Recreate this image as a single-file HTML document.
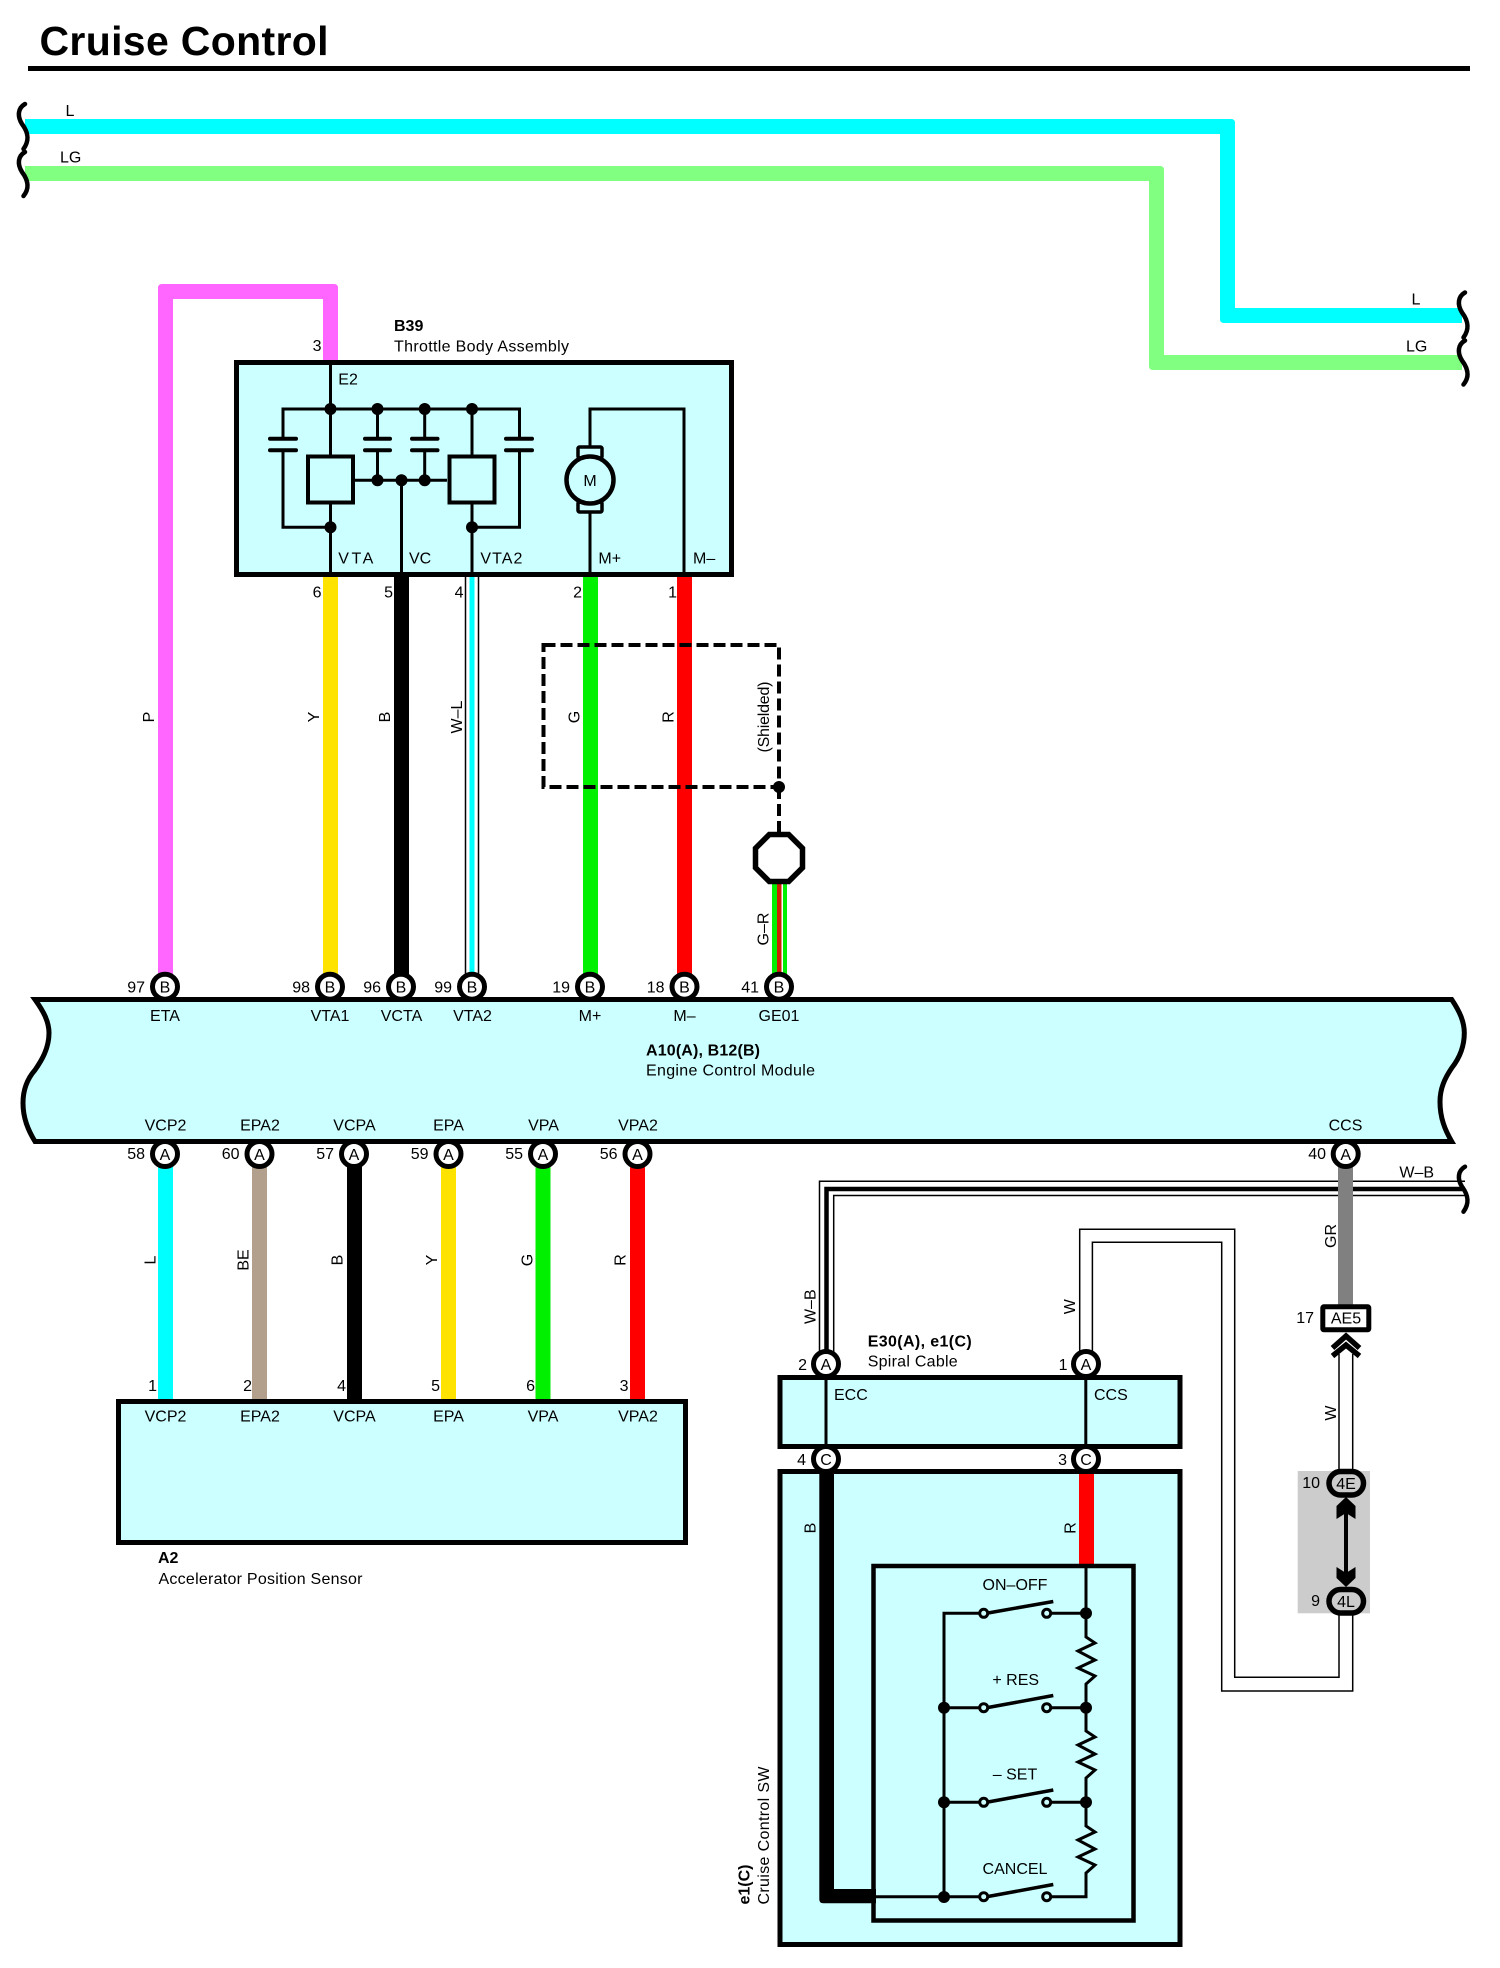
<!DOCTYPE html>
<html>
<head>
<meta charset="utf-8">
<title>Cruise Control</title>
<style>
html,body{margin:0;padding:0;background:#fff}
svg{display:block}
text{font-family:"Liberation Sans",sans-serif;font-size:16px;fill:#000}
.m{text-anchor:middle}
.e{text-anchor:end}
.b{font-weight:bold}
.c{fill:#fff;stroke:#000;stroke-width:5}
.t{fill:none;stroke:#000;stroke-width:3}
.d{fill:#000}
.box{fill:#CCFFFF;stroke:#000;stroke-width:5}
.thin{fill:none;stroke:#000;stroke-width:1.5}
.sq{fill:none;stroke:#000;stroke-width:4.5;stroke-linecap:round}
.pl{fill:none;stroke:#000;stroke-width:4;stroke-linecap:round}
</style>
</head>
<body>
<svg width="1500" height="1968" viewBox="0 0 1500 1968" xmlns="http://www.w3.org/2000/svg">
<rect width="1500" height="1968" fill="#fff"/>

<!-- Title -->
<text x="39.5" y="55" class="b" style="font-size:41px" textLength="289" lengthAdjust="spacing">Cruise Control</text>
<rect x="28" y="66" width="1442" height="5" fill="#000"/>

<!-- Top wires -->
<path fill="#00FFFF" d="M25 119H1231Q1235 119 1235 123V308H1462V323H1224Q1220 323 1220 319V134H25Z"/>
<path fill="#80FF80" d="M25 166H1160Q1164 166 1164 170V355H1462V370H1153Q1149 370 1149 366V181H25Z"/>
<path class="sq" d="M25 104C18 108 17 116 22 124C28 132 30 140 23.5 149"/>
<path class="sq" d="M25 152C18 156 17 164 22 172C28 180 30 188 23.5 196"/>
<path class="sq" transform="translate(1440 188.5)" d="M25 104C18 108 17 116 22 124C28 132 30 140 23.5 149"/>
<path class="sq" transform="translate(1440 188.5)" d="M25 152C18 156 17 164 22 172C28 180 30 188 23.5 196"/>
<text x="70" y="116" class="m">L</text>
<text x="70.7" y="162.7" class="m">LG</text>
<text x="1416" y="304.3" class="m">L</text>
<text x="1416.7" y="351.7" class="m">LG</text>

<!-- Wires between B39 and ECM -->
<path fill="#FF66FF" d="M158 987V288Q158 284 162 284H334Q338 284 338 288V365H323V299H173V987Z"/>
<rect x="323" y="575" width="15" height="412" fill="#FFE300"/>
<rect x="394" y="575" width="15" height="412" fill="#000"/>
<rect x="465.5" y="575" width="13" height="412" fill="#fff"/>
<rect x="469.5" y="575" width="5" height="412" fill="#00FFFF"/>
<line x1="465.5" y1="575" x2="465.5" y2="987" stroke="#000" stroke-width="1.5"/>
<line x1="478.5" y1="575" x2="478.5" y2="987" stroke="#000" stroke-width="1.5"/>
<rect x="583" y="575" width="15" height="412" fill="#00F000"/>
<rect x="677" y="575" width="15" height="412" fill="#FF0000"/>

<!-- Shield -->
<rect x="543.5" y="645" width="235.5" height="142" fill="none" stroke="#000" stroke-width="4" stroke-dasharray="12 5"/>
<line x1="779" y1="787" x2="779" y2="834" stroke="#000" stroke-width="4" stroke-dasharray="12 5"/>
<circle cx="779" cy="787" r="6" class="d"/>
<rect x="772" y="880" width="15" height="107" fill="#00F000"/>
<rect x="777" y="880" width="4.5" height="107" fill="#CC2200"/>
<rect x="781.5" y="880" width="1.5" height="107" fill="#fff"/>
<polygon points="769.3,834.5 788.7,834.5 802.5,848.3 802.5,867.7 788.7,881.5 769.3,881.5 755.5,867.7 755.5,848.3" fill="#fff" stroke="#000" stroke-width="5.5"/>

<!-- Rotated labels, upper -->
<text transform="rotate(-90 154 717)" x="154" y="717" class="m">P</text>
<text transform="rotate(-90 319 717)" x="319" y="717" class="m">Y</text>
<text transform="rotate(-90 390 717)" x="390" y="717" class="m">B</text>
<text transform="rotate(-90 462 717)" x="462" y="717" class="m">W–L</text>
<text transform="rotate(-90 579.5 717)" x="579.5" y="717" class="m">G</text>
<text transform="rotate(-90 673.5 717)" x="673.5" y="717" class="m">R</text>
<text transform="rotate(-90 769 717)" x="769" y="717" class="m" textLength="71" lengthAdjust="spacing">(Shielded)</text>
<text transform="rotate(-90 768.5 929)" x="768.5" y="929" class="m">G–R</text>

<!-- B39 -->
<rect x="236.5" y="362.5" width="495" height="212" class="box"/>
<text x="394" y="331" class="b">B39</text>
<text x="394" y="351.7" textLength="175" lengthAdjust="spacing">Throttle Body Assembly</text>
<text x="321.5" y="351" class="e">3</text>
<text x="321.5" y="597.3" class="e">6</text>
<text x="393" y="597.3" class="e">5</text>
<text x="463.5" y="597.3" class="e">4</text>
<text x="582" y="597.3" class="e">2</text>
<text x="677" y="597.3" class="e">1</text>
<text x="338.3" y="384.7">E2</text>
<text x="338.3" y="563.7" textLength="35" lengthAdjust="spacing">VTA</text>
<text x="409" y="563.7">VC</text>
<text x="480.4" y="563.7" textLength="42" lengthAdjust="spacing">VTA2</text>
<text x="598.4" y="563.7">M+</text>
<text x="693" y="563.7">M–</text>

<path class="t" d="M330.5 365V455M330.5 504V575"/>
<path class="t" d="M283 438.7V409H519.5V438.7M283 450.3V527.3H330.5"/>
<path class="t" d="M519.5 450.3V527.3H472"/>
<path class="t" d="M377.5 409V438.7M377.5 450.3V480.3M424.7 409V438.7M424.7 450.3V480.3"/>
<path class="t" d="M472 409V455M472 504V575"/>
<path class="t" d="M355 480.3H447M401.5 480.3V575"/>
<path class="pl" d="M270 438.7H296M270 450.3H296M365 438.7H390M365 450.3H390M412 438.7H437.5M412 450.3H437.5M506 438.7H532M506 450.3H532"/>
<rect x="308" y="456.5" width="45" height="46" fill="none" stroke="#000" stroke-width="4"/>
<rect x="449.5" y="456.5" width="45" height="46" fill="none" stroke="#000" stroke-width="4"/>
<circle cx="330.5" cy="409" r="6" class="d"/><circle cx="377.5" cy="409" r="6" class="d"/>
<circle cx="424.7" cy="409" r="6" class="d"/><circle cx="472" cy="409" r="6" class="d"/>
<circle cx="377.5" cy="480.3" r="6" class="d"/><circle cx="401.5" cy="480.3" r="6" class="d"/>
<circle cx="424.7" cy="480.3" r="6" class="d"/>
<circle cx="330.5" cy="527.3" r="6" class="d"/><circle cx="472" cy="527.3" r="6" class="d"/>
<!-- motor -->
<path class="t" d="M590 447V409H684V575M590 512V575"/>
<rect x="578" y="447" width="24" height="11" rx="1.5" fill="none" stroke="#000" stroke-width="3.5"/>
<rect x="578" y="502" width="24" height="10" rx="1.5" fill="none" stroke="#000" stroke-width="3.5"/>
<circle cx="590" cy="480" r="23.5" fill="#CCFFFF" stroke="#000" stroke-width="4.5"/>
<text x="590" y="486" class="m">M</text>

<!-- Lower wires -->
<rect x="158" y="1154" width="15" height="247" fill="#00FFFF"/>
<rect x="252" y="1154" width="15" height="247" fill="#B2A08C"/>
<rect x="347" y="1154" width="15" height="247" fill="#000"/>
<rect x="441" y="1154" width="15" height="247" fill="#FFE300"/>
<rect x="535.5" y="1154" width="15" height="247" fill="#00F000"/>
<rect x="630" y="1154" width="15" height="247" fill="#FF0000"/>
<text transform="rotate(-90 155.5 1260)" x="155.5" y="1260" class="m">L</text>
<text transform="rotate(-90 248.5 1260)" x="248.5" y="1260" class="m">BE</text>
<text transform="rotate(-90 342.7 1260)" x="342.7" y="1260" class="m">B</text>
<text transform="rotate(-90 437 1260)" x="437" y="1260" class="m">Y</text>
<text transform="rotate(-90 532.5 1260)" x="532.5" y="1260" class="m">G</text>
<text transform="rotate(-90 625.5 1260)" x="625.5" y="1260" class="m">R</text>

<!-- ECM -->
<path class="box" d="M35 999.5H1451.7C1460 1012 1464.3 1022 1464.3 1033C1464.3 1048 1458 1060 1451.7 1068C1445 1078 1440 1088 1440 1101.7C1440 1118 1445 1130 1451.7 1141.5H35C28 1130 23 1118 23 1103C23 1088 28 1078 35 1070C42 1060 49 1048 49 1033C49 1022 44 1012 35 999.5Z"/>
<text x="165" y="1021" class="m">ETA</text>
<text x="330" y="1021" class="m">VTA1</text>
<text x="401.5" y="1021" class="m">VCTA</text>
<text x="472.5" y="1021" class="m">VTA2</text>
<text x="590" y="1021" class="m">M+</text>
<text x="684.5" y="1021" class="m">M–</text>
<text x="779" y="1021" class="m">GE01</text>
<text x="165.5" y="1130.7" class="m">VCP2</text>
<text x="260" y="1130.7" class="m">EPA2</text>
<text x="354.5" y="1130.7" class="m">VCPA</text>
<text x="448.5" y="1130.7" class="m">EPA</text>
<text x="543.5" y="1130.7" class="m">VPA</text>
<text x="638" y="1130.7" class="m">VPA2</text>
<text x="1345.5" y="1130.7" class="m">CCS</text>
<text x="646" y="1055.7" class="b" textLength="114" lengthAdjust="spacing">A10(A), B12(B)</text>
<text x="646" y="1075.7" textLength="169" lengthAdjust="spacing">Engine Control Module</text>

<!-- ECM upper connectors -->
<circle cx="165" cy="986.7" r="12.5" class="c"/><text x="165" y="992.7" class="m">B</text><text x="145" y="992.5" class="e">97</text>
<circle cx="330" cy="986.7" r="12.5" class="c"/><text x="330" y="992.7" class="m">B</text><text x="310" y="992.5" class="e">98</text>
<circle cx="401" cy="986.7" r="12.5" class="c"/><text x="401" y="992.7" class="m">B</text><text x="381" y="992.5" class="e">96</text>
<circle cx="472" cy="986.7" r="12.5" class="c"/><text x="472" y="992.7" class="m">B</text><text x="452" y="992.5" class="e">99</text>
<circle cx="590" cy="986.7" r="12.5" class="c"/><text x="590" y="992.7" class="m">B</text><text x="570" y="992.5" class="e">19</text>
<circle cx="684.5" cy="986.7" r="12.5" class="c"/><text x="684.5" y="992.7" class="m">B</text><text x="664.5" y="992.5" class="e">18</text>
<circle cx="779" cy="986.7" r="12.5" class="c"/><text x="779" y="992.7" class="m">B</text><text x="759" y="992.5" class="e">41</text>

<!-- ECM lower connectors -->
<circle cx="165" cy="1154" r="12.5" class="c"/><text x="165" y="1160" class="m">A</text><text x="145" y="1159" class="e">58</text>
<circle cx="259.5" cy="1154" r="12.5" class="c"/><text x="259.5" y="1160" class="m">A</text><text x="239.5" y="1159" class="e">60</text>
<circle cx="354" cy="1154" r="12.5" class="c"/><text x="354" y="1160" class="m">A</text><text x="334" y="1159" class="e">57</text>
<circle cx="448.5" cy="1154" r="12.5" class="c"/><text x="448.5" y="1160" class="m">A</text><text x="428.5" y="1159" class="e">59</text>
<circle cx="543" cy="1154" r="12.5" class="c"/><text x="543" y="1160" class="m">A</text><text x="523" y="1159" class="e">55</text>
<circle cx="637.5" cy="1154" r="12.5" class="c"/><text x="637.5" y="1160" class="m">A</text><text x="617.5" y="1159" class="e">56</text>

<!-- A2 -->
<rect x="118.5" y="1401.5" width="567" height="141" class="box"/>
<text x="157" y="1391" class="e">1</text>
<text x="252" y="1391" class="e">2</text>
<text x="346" y="1391" class="e">4</text>
<text x="440" y="1391" class="e">5</text>
<text x="535" y="1391" class="e">6</text>
<text x="628.5" y="1391" class="e">3</text>
<text x="165.5" y="1421.7" class="m">VCP2</text>
<text x="260" y="1421.7" class="m">EPA2</text>
<text x="354.5" y="1421.7" class="m">VCPA</text>
<text x="448.5" y="1421.7" class="m">EPA</text>
<text x="543" y="1421.7" class="m">VPA</text>
<text x="638" y="1421.7" class="m">VPA2</text>
<text x="158" y="1563" class="b">A2</text>
<text x="158.5" y="1584" textLength="204" lengthAdjust="spacing">Accelerator Position Sensor</text>

<!-- W-B wire -->
<path class="thin" d="M819.5 1352V1181.3H1465"/>
<path class="thin" d="M833.7 1352V1195.5H1465"/>
<path fill="none" stroke="#000" stroke-width="4.5" d="M826.5 1352V1189H1465"/>
<path class="sq" transform="translate(1440 1062.7)" d="M25 104C18 108 17 116 22 124C28 132 30 140 23.5 149"/>
<text x="1416.7" y="1177.3" class="m">W–B</text>
<text transform="rotate(-90 815.6 1306.7)" x="815.6" y="1306.7" class="m">W–B</text>

<!-- GR wire + AE5 -->
<rect x="1338" y="1166" width="15" height="140" fill="#808080"/>
<circle cx="1345.7" cy="1154" r="12.5" class="c"/><text x="1345.7" y="1160" class="m">A</text><text x="1326" y="1159" class="e">40</text>
<text transform="rotate(-90 1336 1236)" x="1336" y="1236" class="m">GR</text>
<rect x="1322.8" y="1306.8" width="46" height="23" rx="1" fill="#fff" stroke="#000" stroke-width="5"/>
<text x="1346" y="1323.5" class="m">AE5</text>
<text x="1314" y="1323" class="e">17</text>
<path fill="none" stroke="#000" stroke-width="5.5" d="M1332.5 1348L1346 1336L1359.5 1348M1332.5 1356L1346 1345L1359.5 1356"/>

<!-- W wire from AE5 through junction -->
<path class="thin" d="M1339 1354V1471M1352.7 1354V1471"/>
<text transform="rotate(-90 1336 1413)" x="1336" y="1413" class="m">W</text>
<rect x="1297.7" y="1471" width="72.3" height="142.3" fill="#CCCCCC"/>
<rect x="1329" y="1471.5" width="34.5" height="23.5" rx="11.7" fill="#CCCCCC" stroke="#000" stroke-width="5.5"/>
<text x="1346" y="1489" class="m">4E</text>
<text x="1320" y="1488" class="e">10</text>
<rect x="1329" y="1589.5" width="34.5" height="23.5" rx="11.7" fill="#CCCCCC" stroke="#000" stroke-width="5.5"/>
<text x="1346" y="1607" class="m">4L</text>
<text x="1320" y="1606" class="e">9</text>
<line x1="1346" y1="1505" x2="1346" y2="1580" stroke="#000" stroke-width="4"/>
<polygon points="1346,1497 1355.5,1506 1355.5,1519 1346,1513 1336.5,1519 1336.5,1506" fill="#000"/>
<polygon points="1346,1587 1355.5,1578 1355.5,1567 1346,1573 1336.5,1567 1336.5,1578" fill="#000"/>

<!-- W wire loop -->
<path class="thin" d="M1079.7 1352V1229.3H1234.7V1677.3H1339V1615"/>
<path class="thin" d="M1092.4 1352V1242.3H1221.7V1691H1352.7V1615"/>
<text transform="rotate(-90 1075 1306.7)" x="1075" y="1306.7" class="m">W</text>

<!-- E30 spiral cable -->
<rect x="780" y="1377.5" width="400" height="69" class="box"/>
<path class="t" d="M826 1377V1446M1085.8 1377V1446"/>
<text x="867.7" y="1346.7" class="b" textLength="104" lengthAdjust="spacing">E30(A), e1(C)</text>
<text x="867.7" y="1366.7" textLength="90" lengthAdjust="spacing">Spiral Cable</text>
<text x="834" y="1400">ECC</text>
<text x="1094" y="1400">CCS</text>

<!-- e1 box -->
<rect x="780" y="1471.5" width="400" height="473" class="box"/>
<path fill="#000" d="M819.3 1462H834V1889H876V1903.3H823.3Q819.3 1903.3 819.3 1899.3Z"/>
<rect x="1079" y="1474" width="15" height="92" fill="#FF0000"/>
<text transform="rotate(-90 815.5 1528)" x="815.5" y="1528" class="m">B</text>
<text transform="rotate(-90 1075.5 1528)" x="1075.5" y="1528" class="m">R</text>
<text transform="rotate(-90 749.3 1904.5)" x="749.3" y="1904.5" class="b" textLength="40" lengthAdjust="spacing">e1(C)</text>
<text transform="rotate(-90 769 1904.5)" x="769" y="1904.5" textLength="138" lengthAdjust="spacing">Cruise Control SW</text>

<!-- Switch box -->
<rect x="873.5" y="1566" width="260" height="354.5" fill="none" stroke="#000" stroke-width="4.5"/>
<path class="t" stroke-linejoin="miter" d="M1086 1566V1637L1095 1643L1078 1651L1095 1660L1078 1668L1095 1676L1086 1684V1731L1095 1737L1078 1745L1095 1754L1078 1762L1095 1770L1086 1778V1826L1095 1832L1078 1840L1095 1849L1078 1857L1095 1865L1086 1873V1896.7H1051"/>
<path class="t" d="M979 1613.3H944V1897M944 1707.7H979M944 1802.3H979M875 1896.7H979"/>
<path class="t" d="M1051 1613.3H1086M1051 1707.7H1086M1051 1802.3H1086"/>
<path fill="none" stroke="#000" stroke-width="3.5" d="M988 1613L1053.3 1601.5M988 1707.5L1053.3 1695.5M988 1802L1053.3 1790M988 1896.5L1053.3 1884.5"/>
<circle cx="983.7" cy="1613.3" r="4" fill="#CCFFFF" stroke="#000" stroke-width="3"/>
<circle cx="1046.7" cy="1613.3" r="4" fill="#CCFFFF" stroke="#000" stroke-width="3"/>
<circle cx="983.7" cy="1707.7" r="4" fill="#CCFFFF" stroke="#000" stroke-width="3"/>
<circle cx="1046.7" cy="1707.7" r="4" fill="#CCFFFF" stroke="#000" stroke-width="3"/>
<circle cx="983.7" cy="1802.3" r="4" fill="#CCFFFF" stroke="#000" stroke-width="3"/>
<circle cx="1046.7" cy="1802.3" r="4" fill="#CCFFFF" stroke="#000" stroke-width="3"/>
<circle cx="983.7" cy="1896.7" r="4" fill="#CCFFFF" stroke="#000" stroke-width="3"/>
<circle cx="1046.7" cy="1896.7" r="4" fill="#CCFFFF" stroke="#000" stroke-width="3"/>
<circle cx="1086" cy="1613.3" r="6" class="d"/><circle cx="1086" cy="1707.7" r="6" class="d"/><circle cx="1086" cy="1802.3" r="6" class="d"/>
<circle cx="944" cy="1707.7" r="6" class="d"/><circle cx="944" cy="1802.3" r="6" class="d"/><circle cx="944" cy="1897" r="6" class="d"/>
<text x="1015" y="1590" class="m">ON–OFF</text>
<text x="1015.7" y="1685" class="m">+ RES</text>
<text x="1015" y="1779.3" class="m">– SET</text>
<text x="1015" y="1874" class="m">CANCEL</text>

<!-- Spiral cable connectors -->
<circle cx="826" cy="1364" r="12.5" class="c"/><text x="826" y="1370" class="m">A</text><text x="807" y="1370" class="e">2</text>
<circle cx="1086" cy="1364" r="12.5" class="c"/><text x="1086" y="1370" class="m">A</text><text x="1067.5" y="1370" class="e">1</text>
<circle cx="826" cy="1459" r="12.5" class="c"/><text x="826" y="1465" class="m">C</text><text x="806" y="1465" class="e">4</text>
<circle cx="1086" cy="1459" r="12.5" class="c"/><text x="1086" y="1465" class="m">C</text><text x="1067" y="1465" class="e">3</text>
</svg>
</body>
</html>
